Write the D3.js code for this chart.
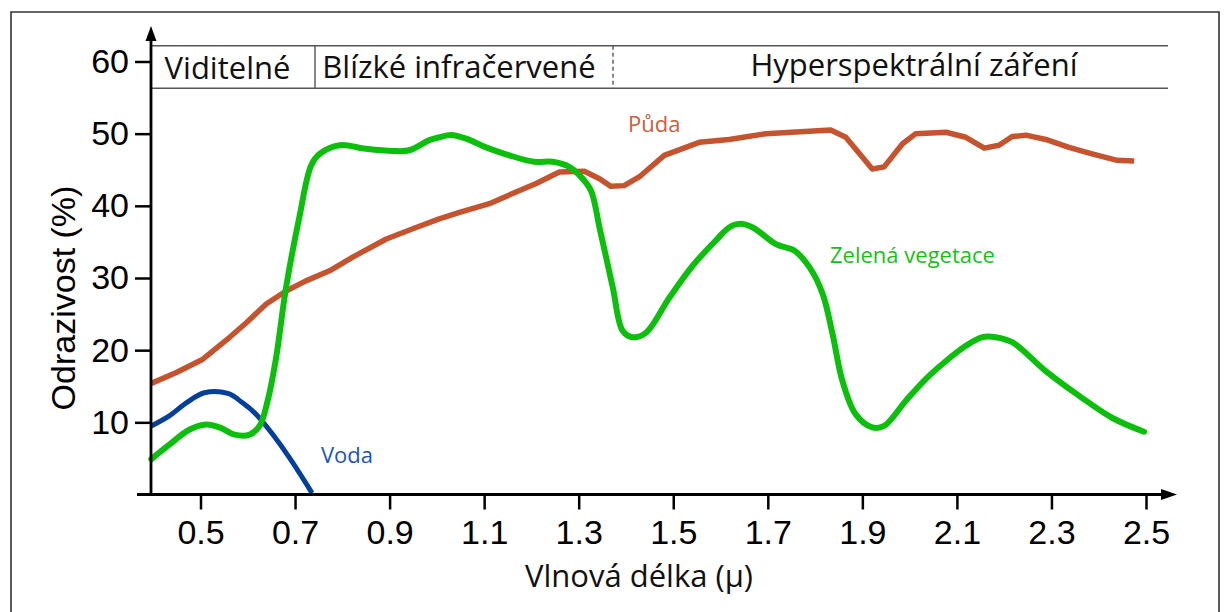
<!DOCTYPE html>
<html><head><meta charset="utf-8">
<script src="https://cdn.jsdelivr.net/npm/d3@7"></script>
<style>body{margin:0;background:#fff}svg{display:block}</style>
</head><body>
<script>
const xTicks = [0.5,0.7,0.9,1.1,1.3,1.5,1.7,1.9,2.1,2.3,2.5];
const yTicks = [10,20,30,40,50,60];
const bands = ["Viditelné","Blízké infračervené","Hyperspektrální záření"];
const bandEdges = [0.396,0.73,1.365,2.545];

const waterWl = [0.396,0.434,0.470,0.508,0.558,0.589,0.618,0.653,0.688,0.736];
const waterR  = [9.5,10.9,12.7,14.1,14.0,12.7,11.1,8.3,5.1,0.2];

const vegWl = [0.396,0.434,0.477,0.512,0.540,0.572,0.604,0.625,0.642,0.660,0.681,0.709,0.734,0.752,0.794,0.850,0.907,0.942,0.984,1.005,1.030,1.062,1.104,1.153,1.206,1.245,1.280,1.305,1.326,1.344,1.372,1.393,1.414,1.442,1.492,1.541,1.590,1.618,1.640,1.668,1.717,1.756,1.788,1.816,1.837,1.858,1.886,1.921,1.946,1.992,2.034,2.077,2.119,2.154,2.182,2.217,2.288,2.358,2.429,2.496];
const vegR  = [4.9,6.9,9.0,9.7,9.3,8.3,8.3,9.5,13.0,19.0,28.7,38.4,45.6,47.2,48.4,47.9,47.6,47.7,49.1,49.5,49.8,49.3,48.1,47.0,46.1,46.1,45.4,44.0,42.1,37.0,28.7,22.7,21.8,22.4,27.3,31.7,35.2,37.0,37.5,37.0,34.7,33.8,31.5,27.8,22.2,15.7,11.1,9.3,9.5,13.0,16.0,18.5,20.6,21.8,21.8,21.1,17.1,13.7,10.6,8.7];

const soilWl = [0.396,0.449,0.505,0.561,0.597,0.639,0.681,0.723,0.773,0.822,0.893,0.956,1.005,1.048,1.111,1.160,1.210,1.259,1.312,1.344,1.368,1.396,1.428,1.481,1.555,1.618,1.696,1.833,1.865,1.921,1.946,1.985,2.013,2.077,2.119,2.158,2.189,2.217,2.246,2.288,2.337,2.386,2.439,2.475];
const soilR  = [15.4,16.9,18.75,21.75,23.8,26.4,28.2,29.6,31.0,32.9,35.4,37.0,38.2,39.1,40.3,41.7,43.1,44.7,44.8,43.75,42.7,42.8,44.0,47.0,48.8,49.2,50.0,50.5,49.5,45.1,45.4,48.6,50.0,50.2,49.5,48.0,48.4,49.6,49.8,49.2,48.1,47.2,46.3,46.2];

const W = 1226, H = 612;
const svg = d3.select("body").append("svg").attr("width", W).attr("height", H);
svg.append("rect").attr("width", W).attr("height", H).attr("fill", "#fff");

// frame
svg.append("path").attr("d", "M11,612V12H1219V612").attr("fill","none").attr("stroke","#333").attr("stroke-width",1.6);

const x = d3.scaleLinear().domain([0.5, 2.5]).range([200.5, 1146]);
const y = d3.scaleLinear().domain([0, 60]).range([494.5, 61.5]);
const X0 = 151, Y0 = 494.5;

// header band table
const hTop = 45.7, hBot = 88.3, hRight = 1168;
const hg = svg.append("g");
hg.append("line").attr("x1",X0).attr("x2",hRight).attr("y1",hTop).attr("y2",hTop).attr("stroke","#555").attr("stroke-width",1.6);
hg.append("line").attr("x1",X0).attr("x2",hRight).attr("y1",hBot).attr("y2",hBot).attr("stroke","#555").attr("stroke-width",1.6);
hg.append("line").attr("x1",315).attr("x2",315).attr("y1",hTop).attr("y2",hBot).attr("stroke","#555").attr("stroke-width",1.4);
hg.append("line").attr("x1",613).attr("x2",613).attr("y1",hTop).attr("y2",hBot).attr("stroke","#555").attr("stroke-width",1.4).attr("stroke-dasharray","4,3");
const bandX = [227.5, 459, 914];
const bandY = [79, 78, 76];
bands.forEach((b,i)=>{
  hg.append("text").attr("x",bandX[i]).attr("y",bandY[i]).attr("text-anchor","middle")
    .attr("font-family","'Open Sans', sans-serif").attr("font-size",31).attr("fill","#111").text(b);
});

// lines
const line = d3.line().x(d=>x(d[0])).y(d=>y(d[1]));
const smooth = d3.line().x(d=>x(d[0])).y(d=>y(d[1])).curve(d3.curveCatmullRom.alpha(0.5));
svg.append("path").datum(soilWl.map((w,i)=>[w,soilR[i]])).attr("d", line)
  .attr("fill","none").attr("stroke","#c4532e").attr("stroke-width",5.5).attr("stroke-linejoin","round").attr("stroke-linecap","butt");
svg.append("path").datum(waterWl.map((w,i)=>[w,waterR[i]])).attr("d", smooth)
  .attr("fill","none").attr("stroke","#053f9c").attr("stroke-width",5).attr("stroke-linejoin","round");
svg.append("path").datum(vegWl.map((w,i)=>[w,vegR[i]])).attr("d", smooth)
  .attr("fill","none").attr("stroke","#0cbf0c").attr("stroke-width",6).attr("stroke-linejoin","round").attr("stroke-linecap","round");

// series labels
const lab = (t,xx,yy,c)=>svg.append("text").attr("x",xx).attr("y",yy).attr("font-family","'Open Sans', sans-serif").attr("font-size",22).attr("fill",c).text(t);
lab("Půda", 628, 132, "#c8603e");
lab("Zelená vegetace", 830, 263, "#16c116");
lab("Voda", 321, 463, "#1e55b3");

// axes
const xAxis = d3.axisBottom(x).tickValues(xTicks).tickFormat(d3.format(".1f")).tickSize(15).tickPadding(10);
const gx = svg.append("g").attr("transform",`translate(0,${Y0})`).call(xAxis);
gx.select(".domain").remove();
gx.selectAll(".tick line").attr("stroke","#000").attr("stroke-width",2.5);
gx.selectAll("text").attr("font-family","'Liberation Sans', Arial, sans-serif").attr("font-size",34).attr("fill","#000");

const yAxis = d3.axisLeft(y).tickValues(yTicks).tickSize(16).tickPadding(6);
const gy = svg.append("g").attr("transform",`translate(${X0},0)`).call(yAxis);
gy.select(".domain").remove();
gy.selectAll(".tick line").attr("stroke","#000").attr("stroke-width",2.5);
gy.selectAll("text").attr("font-family","'Liberation Sans', Arial, sans-serif").attr("font-size",34).attr("fill","#000");

// axis lines with arrows
svg.append("line").attr("x1",137).attr("x2",1165).attr("y1",Y0).attr("y2",Y0).attr("stroke","#000").attr("stroke-width",2.8);
svg.append("line").attr("x1",X0).attr("x2",X0).attr("y1",Y0).attr("y2",38).attr("stroke","#000").attr("stroke-width",2.8);
svg.append("path").attr("d",`M${X0-5.5},41L${X0},26L${X0+5.5},41Z`).attr("fill","#000");
svg.append("path").attr("d",`M1161,${Y0-5.5}L1177,${Y0}L1161,${Y0+5.5}Z`).attr("fill","#000");

// axis titles
svg.append("text").attr("x",639).attr("y",587).attr("text-anchor","middle")
  .attr("font-family","'Open Sans', sans-serif").attr("font-size",31).attr("fill","#111").text("Vlnová délka (μ)");
svg.append("text").attr("transform","translate(75,298) rotate(-90)").attr("text-anchor","middle")
  .attr("font-family","'Liberation Sans', Arial, sans-serif").attr("font-size",34).attr("fill","#000").text("Odrazivost (%)");
</script>
</body></html>
